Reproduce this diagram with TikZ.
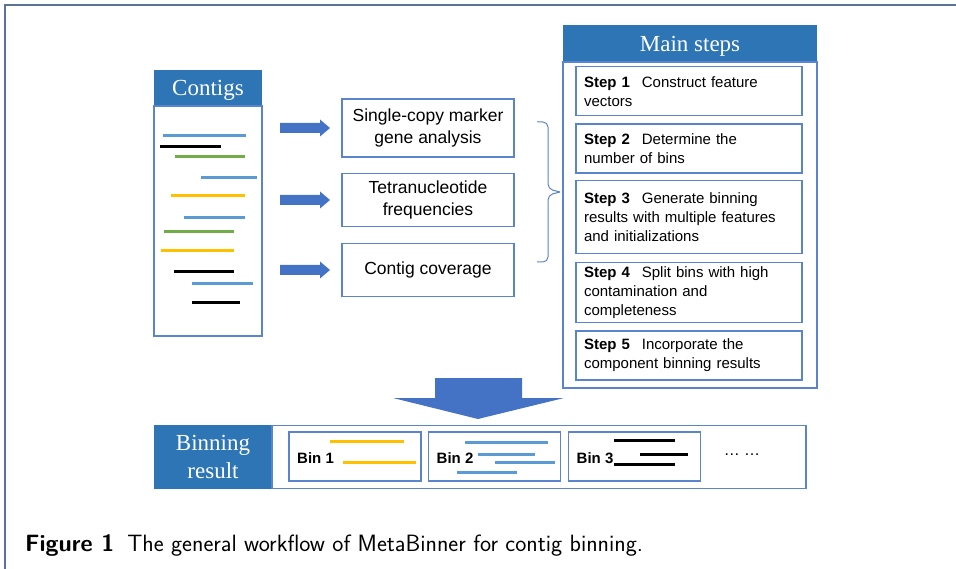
\documentclass[tikz,border=0pt]{standalone}
\usepackage{fontspec}
\newfontfamily\hdrfont{Liberation Serif}
\newfontfamily\boxfont{Liberation Sans}
\usepackage{tikz}
\usetikzlibrary{positioning,calc}

\definecolor{hdrblue}{HTML}{2E75B6}
\definecolor{boxblue}{HTML}{5B84CE}
\definecolor{arrblue}{HTML}{4472C4}
\definecolor{segblue}{HTML}{5B9BD5}
\definecolor{seggreen}{HTML}{70AD47}
\definecolor{segyellow}{HTML}{FFC000}
\definecolor{framegray}{HTML}{5A7396}

\tikzset{
  hdr/.style={fill=hdrblue, text=white, font=\hdrfont\fontsize{23}{24}\selectfont, inner sep=0pt, outer sep=0pt},
  box/.style={draw=boxblue, line width=1.5pt, inner sep=0pt, outer sep=0pt},
  feat/.style={box, minimum width=172pt, align=center, font=\boxfont\fontsize{17.5}{22}\selectfont},
  stepbox/.style={box, inner xsep=8pt, text width=210pt, align=left, font=\boxfont\fontsize{15}{19}\selectfont},
  binbox/.style={box, minimum width=132pt, minimum height=49pt},
  binlbl/.style={font=\boxfont\bfseries\fontsize{15}{18}\selectfont, inner sep=0pt},
  seg/.style={line width=3pt},
}

% fat arrow pointing at the west side of a node
\newcommand{\featarrow}[1]{%
  \fill[arrblue] ($(#1.west)+(-62,-5)$) -- ++(40,0) -- ++(0,-3.5) -- ++(10,8.5)
    -- ++(-10,8.5) -- ++(0,-3.5) -- ++(-40,0) -- cycle;}

\begin{document}
\begin{tikzpicture}[x=1pt,y=-1pt]
    \useasboundingbox (0,0) rectangle (956,569);
    % frame
    \draw[framegray, line width=2pt] (5,569) -- (5,5) -- (956,5);

    % contigs
    \node[hdr, text depth=0pt, minimum width=108pt, minimum height=36pt] (contigshdr) at (208,88) {Contigs};
    \node[box, line width=2pt, minimum width=108pt, minimum height=230pt, below=0pt of contigshdr] (contigs) {};
    \foreach \xa/\xb/\yy/\col in {163/246/136/segblue, 160/221/147/black, 175/245/157/seggreen,
        201/257/178/segblue, 171/245/196/segyellow, 184/245/218/segblue, 164/234/232/seggreen,
        161/234/251/segyellow, 174/234/272/black, 192/253/284/segblue, 192/240/303/black}
      \draw[seg, \col] (\xa,\yy) -- (\xb,\yy);

    % features
    \node[feat, minimum height=58pt] (feat1) at (428,128) {Single-copy marker\\gene analysis};
    \node[feat, minimum height=53pt] (feat2) at (428,200) {Tetranucleotide\\frequencies};
    \node[feat, minimum height=53pt] (feat3) at (428,270) {Contig coverage};
    \foreach \f in {feat1,feat2,feat3}
      \featarrow{\f};

    % brace
    \draw[boxblue, line width=1pt, rounded corners=5pt] (537,122) -- (548,122) -- (548,189) -- (560,192);
    \draw[boxblue, line width=1pt, rounded corners=5pt] (537,262) -- (548,262) -- (548,195) -- (560,192);

    % main steps
    \node[hdr, text depth=0pt, minimum width=254pt, minimum height=37pt] (mainhdr) at (690,43.5) {Main steps};
    \node[box, line width=2pt, minimum width=254pt, minimum height=326pt, below=0pt of mainhdr] (main) {};
    \node[stepbox, minimum height=49pt] (step1) at (689,91.2) {\textbf{Step 1}\hspace{0.8em}Construct feature\\vectors};
    \node[stepbox, minimum height=49pt] (step2) at (689,148.7) {\textbf{Step 2}\hspace{0.8em}Determine the\\number of bins};
    \node[stepbox, minimum height=73pt] (step3) at (689,217) {\textbf{Step 3}\hspace{0.8em}Generate binning\\results with multiple features\\and initializations};
    \node[stepbox, minimum height=60pt] (step4) at (689,292.3) {\textbf{Step 4}\hspace{0.8em}Split bins with high\\contamination and\\completeness};
    \node[stepbox, minimum height=49pt] (step5) at (689,355.3) {\textbf{Step 5}\hspace{0.8em}Incorporate the\\component binning results};

    % down arrow
    \fill[arrblue] (435,378) -- (522,378) -- (522,398) -- (564,398) -- (478,419)
      -- (393,398) -- (435,398) -- cycle;

    % binning result
    \node[hdr, minimum width=118pt, minimum height=64pt, align=center,
      font=\hdrfont\fontsize{23}{28}\selectfont] (binhdr) at (213,457) {Binning\\result};
    \node[box, minimum width=534pt, minimum height=63pt, anchor=west] (bins) at (binhdr.east) {};
    \node[binbox] (bin1) at (355,456.5) {};
    \node[binbox] (bin2) at (494.5,456.5) {};
    \node[binbox] (bin3) at (634.5,456.5) {};
    \node[binlbl, anchor=west] (lbl1) at ([xshift=8pt,yshift=-1.5pt]bin1.west) {Bin 1};
    \node[binlbl, anchor=west] (lbl2) at ([xshift=8pt,yshift=-1.5pt]bin2.west) {Bin 2};
    \node[binlbl, anchor=west] (lbl3) at ([xshift=8pt,yshift=-1.5pt]bin3.west) {Bin 3};
    \foreach \xa/\xb/\yy/\col in {330/404/441/segyellow, 343/416/462/segyellow,
        465/548/442/segblue, 478/535/454/segblue, 495/555/462/segblue, 457/517/472/segblue,
        614/675/440/black, 640/688/454/black, 614/675/464/black}
      \draw[seg, \col] (\xa,\yy) -- (\xb,\yy);
    \node[font=\boxfont\fontsize{16}{18}\selectfont] (more) at (742,455) {… …};

    % caption
    \node[anchor=base west, font=\sffamily\fontsize{23.6}{26}\selectfont, inner sep=0pt] (caption)
      at (25,551) {\textbf{Figure 1}\hspace{0.55em}The general workflow of MetaBinner for contig binning.};
\end{tikzpicture}
\end{document}
